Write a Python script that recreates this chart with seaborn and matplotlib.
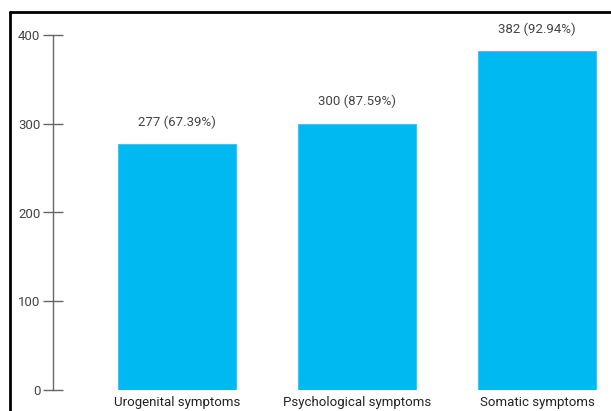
import matplotlib
matplotlib.use("Agg")
import matplotlib.pyplot as plt
import seaborn as sns
import pandas as pd
from matplotlib.lines import Line2D

categories = ["Urogenital symptoms", "Psychological symptoms", "Somatic symptoms"]
counts = [277, 300, 382]
percents = [67.39, 87.59, 92.94]
yticks = [0, 100, 200, 300, 400]

df = pd.DataFrame({"category": categories, "count": counts})

sns.set_theme(style="white")
plt.rcParams["font.family"] = ["Roboto", "DejaVu Sans"]

W, H = 611, 411
fig = plt.figure(figsize=(W / 100, H / 100), dpi=100)
ax = fig.add_axes([53 / W, (H - 390) / H, (W - 53) / W, (390 - 35) / H])

sns.barplot(data=df, x="category", y="count", color="#00B9F1", saturation=1,
            width=0.656, ax=ax, edgecolor="#33C8F5", linewidth=0.8)

ax.set_xlim(-0.689, 2.411)
ax.set_ylim(0, 400)
ax.set_yticks(yticks)
ax.set_yticklabels([str(t) for t in yticks], fontsize=9.5, color="#444444")
ax.set_xlabel("")
ax.set_ylabel("")
ax.tick_params(axis="y", left=True, direction="inout", length=14, width=1, color="#666666", pad=2)
ax.tick_params(axis="x", bottom=False, length=0, labelsize=9.5, labelcolor="#222222", pad=4.5)
for s in ["top", "right", "bottom"]:
    ax.spines[s].set_visible(False)
ax.spines["left"].set_color("#666666")
ax.spines["left"].set_linewidth(1)

for i, (c, p) in enumerate(zip(counts, percents)):
    ax.annotate(f"{c} ({p:.2f}%)", xy=(i, c), xytext=(0, 11), textcoords="offset points",
                ha="center", va="bottom", fontsize=9.5, color="#444444", annotation_clip=False)

# figure border (top and left)
fig.add_artist(Line2D([10 / W, 1.0], [1 - 12.5 / H, 1 - 12.5 / H], transform=fig.transFigure,
                      color="black", linewidth=2))
fig.add_artist(Line2D([10 / W, 10 / W], [1 - 12.5 / H, 0], transform=fig.transFigure,
                      color="black", linewidth=2))

fig.savefig("out.png", dpi=100)
